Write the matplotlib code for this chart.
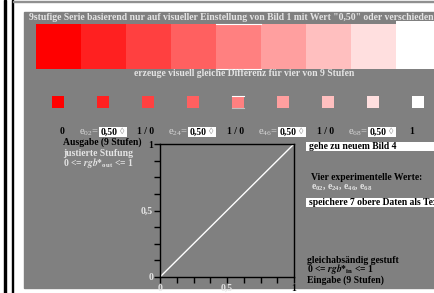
import matplotlib.pyplot as plt
from matplotlib.patches import Rectangle
import numpy as np

plt.rcParams['font.family'] = ['Liberation Serif', 'DejaVu Sans']
plt.rcParams['font.weight'] = 'bold'
plt.rcParams['mathtext.fontset'] = 'stix'

# data
stufen = np.linspace(0, 1, 9)          # 9 Stufen, rot -> weiss
werte = ['0,50', '0,50', '0,50', '0,50']
e_namen = ['02', '24', '46', '68']
trenner = ['0', '1 / 0', '1 / 0', '1 / 0', '1']
ticks = np.linspace(0, 1, 9)
gerade_x = [0, 1]
gerade_y = [0, 1]

grau = '#808080'
hell = '#e4e4e4'
fs = 6.9

fig = plt.figure(figsize=(4.34, 2.93), dpi=100)
bg = fig.add_axes([0, 0, 1, 1])
bg.set_xlim(0, 434)
bg.set_ylim(293, 0)
bg.axis('off')

# Rahmen links/oben
bg.add_patch(Rectangle((4, 0), 2, 293, color='black'))
bg.add_patch(Rectangle((12, 0), 1.2, 293, color='black'))
bg.add_patch(Rectangle((13, 1), 421, 1, color='#909090'))
bg.add_patch(Rectangle((24, 12), 410, 276, color=grau))

bg.text(29, 17.5, '9stufige Serie basierend nur auf visueller Einstellung von Bild 1 '
        'mit Wert "0,50" oder verschieden', color=hell, fontsize=fs,
        va='center', ha='left')

# grosse Farbfelder
for i, s in enumerate(stufen):
    c = (1, s, s)
    x0 = 36 + 45 * i
    bg.add_patch(Rectangle((x0, 24), 45, 45, color=c, lw=0))
    if i == 4:
        bg.plot([x0, x0 + 45], [24, 24], color='white', lw=0.8)
        bg.plot([x0, x0 + 45], [68.5, 68.5], color='white', lw=0.8)
# weisser Bereich rechts
bg.add_patch(Rectangle((396, 21), 40, 48, color='white', lw=0))

bg.text(244, 74, 'erzeuge visuell gleiche Differenz für vier von 9 Stufen',
        color=hell, fontsize=fs, ha='center', va='center')

# kleine Farbfelder
for i, s in enumerate(stufen):
    c = (1, s, s)
    xc = 58 + 45 * i
    bg.add_patch(Rectangle((xc - 6, 96), 12, 12, color=c, lw=0))
    if i == 4:
        bg.plot([xc - 6, xc + 6], [96.3, 96.3], color='white', lw=0.8)
        bg.plot([xc - 6, xc + 6], [107.7, 107.7], color='#c0c0c0', lw=0.8)

# Eingabezeile
ty = 132
for k, t in enumerate(trenner):
    xc = [62, 146, 236, 326, 412][k]
    bg.text(xc, ty, t, color='black', fontsize=fs, ha='center', va='center')
for k, (n, w) in enumerate(zip(e_namen, werte)):
    xb = [99, 188, 278, 368][k]
    bg.text(xb, ty + 0.5, r'$\mathregular{e_{%s}}$=' % n, color='#d8d8d8',
            fontsize=fs + 0.8, ha='right', va='center', fontweight='normal')
    bg.add_patch(Rectangle((xb, 127), 28, 9.5, color='white', lw=0))
    bg.text(xb + 1.5, ty, w, color='black', fontsize=fs, ha='left', va='center')
    bg.text(xb + 21, ty, '◊', color='#999999', fontsize=fs - 0.5,
            ha='left', va='center', fontweight='normal')

# linke Texte
bg.text(63, 142, 'Ausgabe (9 Stufen)', color='black', fontsize=fs, va='center')
bg.text(63, 153, 'justierte Stufung', color=hell, fontsize=fs, va='center')
bg.text(63, 163, r'0 <= $\mathit{rgb}$*$_{\mathregular{out}}$ <= 1', color=hell,
        fontsize=fs, va='center')

# rechte Texte
bg.add_patch(Rectangle((306, 142), 128, 8.5, color='white', lw=0))
bg.text(309, 146.3, 'gehe zu neuem Bild 4', color='black', fontsize=fs, va='center')
bg.text(311, 177, 'Vier experimentelle Werte:', color='black', fontsize=fs, va='center')
bg.text(311, 187, r'$\mathregular{e_{02}}$, $\mathregular{e_{24}}$, '
        r'$\mathregular{e_{46}}$, $\mathregular{e_{68}}$', color=hell,
        fontsize=fs, va='center')
bg.add_patch(Rectangle((306, 198), 128, 8.5, color='white', lw=0))
bg.text(309, 202.3, 'speichere 7 obere Daten als Text', color='black',
        fontsize=fs, va='center')
bg.text(307, 260.5, 'gleichabsändig gestuft', color='black', fontsize=fs, va='center')
bg.text(307, 269.5, r'0 <= $\mathit{rgb}$*$_{\mathregular{in}}$ <= 1', color='black',
        fontsize=fs, va='center')
bg.text(307, 280.5, 'Eingabe (9 Stufen)', color='black', fontsize=fs, va='center')

# Diagramm
ax = fig.add_axes([160 / 434, (293 - 277) / 293, 134 / 434, 133 / 293])
ax.set_facecolor(grau)
ax.plot(gerade_x, gerade_y, color='white', lw=1)
ax.set_xlim(0, 1)
ax.set_ylim(0, 1)
for sp in ax.spines.values():
    sp.set_color('black')
    sp.set_linewidth(1)
ax.set_xticks(ticks)
ax.set_yticks(ticks)
xl = ['0', '', '', '', '0,5', '', '', '', '1']
ax.set_xticklabels(xl)
ax.set_yticklabels(xl)
ax.tick_params(direction='out', length=4, width=1, color='black',
               labelsize=fs, pad=1)
for lab in ax.get_xticklabels() + ax.get_yticklabels():
    lab.set_fontweight('bold')
    lab.set_color(hell)
ax.get_xticklabels()[-1].set_color('black')
ax.get_yticklabels()[-1].set_color('black')

fig.savefig('out.png', dpi=100)
